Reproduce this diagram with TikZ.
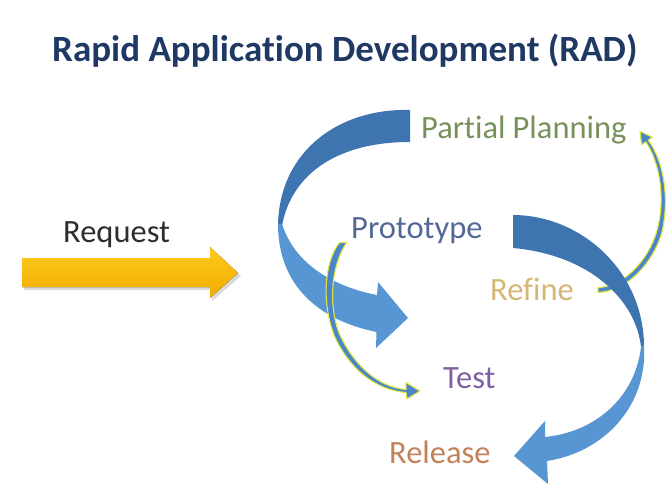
\documentclass[tikz,border=0pt]{standalone}
\usepackage{fontspec}
\setmainfont{Carlito}[Ligatures=NoCommon]
\definecolor{titleblue}{RGB}{31,56,100}
\definecolor{planGreen}{RGB}{118,146,90}
\definecolor{protoBlue}{RGB}{84,104,152}
\definecolor{reqGray}{RGB}{45,45,45}
\definecolor{refineTan}{RGB}{212,182,118}
\definecolor{testPurple}{RGB}{128,96,160}
\definecolor{releaseOrange}{RGB}{196,128,88}
\definecolor{ribbonDark}{RGB}{62,117,177}
\definecolor{ribbonLight}{RGB}{87,150,211}
\definecolor{thinBlue}{RGB}{74,134,200}
\definecolor{glowYellow}{RGB}{228,232,70}
\definecolor{goldTop}{RGB}{255,202,30}
\definecolor{goldBottom}{RGB}{240,172,0}
\tikzset{
  lbl/.style={anchor=base west, inner sep=0pt, font=\fontsize{32.5}{38}\selectfont},
  titletext/.style={anchor=base west, inner sep=0pt, font=\fontsize{37}{42}\selectfont\bfseries, text=titleblue},
  backface/.style={fill=ribbonDark},
  frontface/.style={fill=ribbonLight},
  thinarrow/.style={fill=thinBlue, draw=glowYellow, line width=1.1pt, line join=round},
}
\begin{document}
\begin{tikzpicture}[x=1pt,y=-1pt]
\useasboundingbox (0,0) rectangle (667,485);

% heading
\node[titletext] (title) at (52,61) {Rapid Application Development (RAD)};

% labels
\node[lbl, text=reqGray] (request) at (63,242) {Request};
\node[lbl, text=planGreen] (planning) at (421,138) {Partial\hspace{0.22em}Planning};
\node[lbl, text=protoBlue] (prototype) at (351,238) {Prototype};
\node[lbl, text=refineTan] (refine) at (490,300) {Refine};
\node[lbl, text=testPurple] (test) at (443,388) {Test};
\node[lbl, text=releaseOrange] (release) at (389,463) {Release};

% request block arrow with a soft shadow
\fill[black, opacity=0.15] (24,261) -- (212,261) -- (212,250) -- (241,276) -- (212,301) -- (212,290) -- (24,290) -- cycle;
\fill[top color=goldTop, bottom color=goldBottom]
  (22,258) -- (210,258) -- (210,247) -- (238,273) -- (210,298) -- (210,287) -- (22,287) -- cycle;

% big ribbon arrow: planning -> prototype (back face, then front face)
\fill[backface] (410,110) .. controls (340,108) and (280,150) .. (278,224)
  -- (282,226) .. controls (290,180) and (330,142) .. (410,142) -- cycle;
\fill[frontface] (278,224) .. controls (278,285) and (318,320) .. (376.5,332)
  -- (376,348) -- (408,318) -- (378,282) -- (377,295)
  .. controls (335,287) and (295,265) .. (282,224) -- cycle;

% thin arrow: prototype -> test
\filldraw[thinarrow] (339,243) .. controls (325,262) and (321,300) .. (334,335)
  .. controls (348,367) and (374,390) .. (406,392.5)
  -- (407,399) -- (420,391) -- (406,382.5) -- (406,389.5)
  .. controls (377,387) and (353,364) .. (339,333)
  .. controls (327,300) and (333,262) .. (347,242) -- cycle;

% thin arrow: refine -> partial planning (passes behind the release ribbon)
\filldraw[thinarrow] (598,292.5) .. controls (627,291) and (652,264) .. (661.5,234)
  .. controls (670,200) and (664,161) .. (648.2,140.2)
  -- (652.3,137.2) -- (640,131.3) -- (641.6,144.8) -- (645.8,141.8)
  .. controls (660,163) and (666,200) .. (656.5,232)
  .. controls (648,261) and (623,287) .. (598,287.5) -- cycle;

% big ribbon arrow: prototype -> release
\fill[backface] (513,215) .. controls (580,215) and (643,270) .. (644,345)
  -- (641,347) .. controls (636,300) and (590,255) .. (513,248) -- cycle;
\fill[frontface] (644,345) .. controls (648,405) and (605,452) .. (547,461)
  -- (548,484) -- (514,456) -- (545,421) -- (545,437)
  .. controls (595,432) and (635,398) .. (641,347) -- cycle;
\end{tikzpicture}
\end{document}
